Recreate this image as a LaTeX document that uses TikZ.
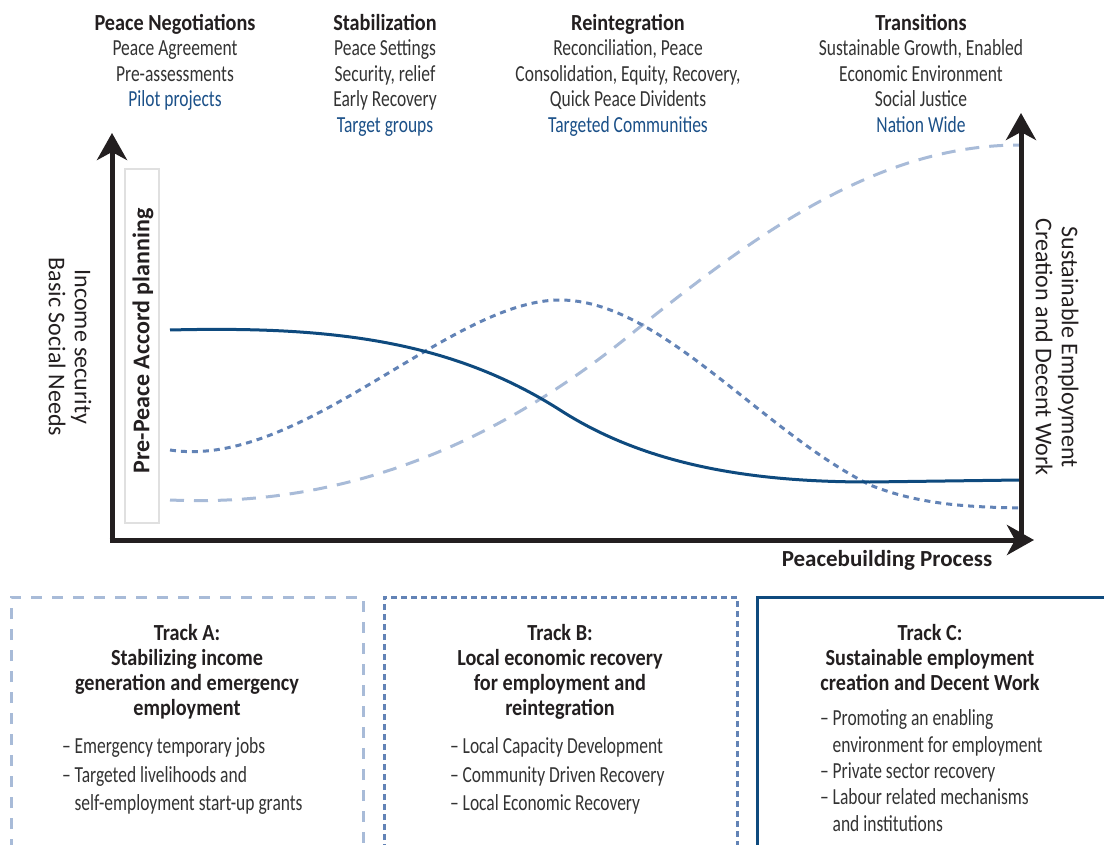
\documentclass[tikz,border=0pt]{standalone}
\usepackage{fontspec}
\setmainfont{Carlito}[FakeStretch=0.76, BoldFeatures={FakeStretch=0.88}]
\newfontfamily\labelfont{Carlito}
\usetikzlibrary{arrows.meta}
\definecolor{txt}{HTML}{231F20}
\definecolor{bodytxt}{HTML}{333333}
\definecolor{navy}{HTML}{0E4A7E}
\definecolor{bluetxt}{HTML}{1B5088}
\definecolor{midblue}{HTML}{6283B6}
\definecolor{lightblue}{HTML}{A8BBD8}
\definecolor{axiscol}{HTML}{231F20}
\begin{document}
\begin{tikzpicture}[x=1pt,y=-1pt,
  every node/.style={inner sep=0pt, outer sep=0pt},
  body/.style={font=\fontsize{23}{25.5}\selectfont, text=bodytxt},
  coltext/.style={body, align=center, anchor=north},
  boxtitle/.style={font=\bfseries\fontsize{23}{25}\selectfont, text=txt, align=center, anchor=north},
  itemsAB/.style={font=\fontsize{23}{28.5}\selectfont, text=bodytxt, align=left, anchor=north west},
  itemsC/.style={font=\fontsize{23}{26.3}\selectfont, text=bodytxt, align=left, anchor=north west},
  sidelabel/.style={font=\labelfont\fontsize{24}{26}\selectfont, text=txt, align=center},
  axisline/.style={line width=5pt, draw=axiscol, -{Stealth[length=27pt,width=30pt,inset=8pt]}},
  curveC/.style={draw=navy, line width=3pt},
  curveB/.style={draw=midblue, line width=3pt, dash pattern=on 6pt off 5pt},
  curveA/.style={draw=lightblue, line width=3pt, dash pattern=on 14pt off 10pt},
  boxA/.style={draw=lightblue, line width=3pt, dash pattern=on 11pt off 10pt},
  boxB/.style={draw=midblue, line width=3pt, dash pattern=on 6pt off 4pt},
  boxC/.style={draw=navy, line width=3pt}
]
\useasboundingbox (0,0) rectangle (1104,845);
\clip (0,0) rectangle (1104,845);

% ---- top column texts
\node[coltext] (neg) at (175,14) {\textbf{\color{txt}Peace Negotiations}\\Peace Agreement\\Pre-assessments\\{\color{bluetxt}Pilot projects}};
\node[coltext] (stab) at (385,14) {\textbf{\color{txt}Stabilization}\\Peace Settings\\Security, relief\\Early Recovery\\{\color{bluetxt}Target groups}};
\node[coltext] (reint) at (628,14) {\textbf{\color{txt}Reintegration}\\Reconciliation, Peace\\Consolidation, Equity, Recovery,\\Quick Peace Dividents\\{\color{bluetxt}Targeted Communities}};
\node[coltext] (trans) at (921,14) {\textbf{\color{txt}Transitions}\\Sustainable Growth, Enabled\\Economic Environment\\Social Justice\\{\color{bluetxt}Nation Wide}};

% ---- pre-peace box
\node[draw=black!12, line width=1.5pt, minimum width=34pt, minimum height=354pt] (pre) at (142,346) {};
\node[rotate=90, sidelabel, font=\labelfont\bfseries\fontsize{24}{26}\selectfont] (pretext) at (143,341) {Pre-Peace Accord planning};

% ---- curves
\draw[curveA] (170,500) .. controls (350,508) and (500,440) .. (630,335)
  .. controls (760,230) and (880,145) .. (1020,145);
\draw[curveB] (170,450) .. controls (300,470) and (450,300) .. (560,300)
  .. controls (660,300) and (760,430) .. (870,485)
  .. controls (920,505) and (970,507) .. (1020,508);
\draw[curveC] (170,330) .. controls (330,326) and (450,340) .. (560,410)
  .. controls (650,468) and (760,482) .. (870,482) -- (1020,480);

% ---- axes
\coordinate (Ostart) at (112,542.5);
\coordinate (Ytop) at (112,133);
\coordinate (Hstart) at (109.5,540);
\coordinate (Xend) at (1034,540);
\coordinate (Rstart) at (1021,542.5);
\coordinate (Rtop) at (1021,113);
\draw[axisline] (Ostart) -- (Ytop);
\draw[axisline] (Hstart) -- (Xend);
\draw[axisline] (Rstart) -- (Rtop);

% ---- axis labels
\node[sidelabel, rotate=-90] (ylab) at (70,347) {Income security\\Basic Social Needs};
\node[sidelabel, rotate=-90] (rlab) at (1057,347) {Sustainable Employment\\Creation and Decent Work};
\node[font=\labelfont\bfseries\fontsize{23}{25}\selectfont, text=txt] (xlab) at (887,560) {Peacebuilding Process};

% ---- track boxes
\draw[boxA] (11,850) -- (11,597) -- (363,597) -- (363,850);
\draw[boxB] (384,850) -- (384,597) -- (737,597) -- (737,850);
\draw[boxC] (757,850) -- (757,597) -- (1110,597);

\node[boxtitle] (ta) at (187,624) {Track A:\\Stabilizing income\\generation and emergency\\employment};
\node[itemsAB] (tai) at (62,738) {\textendash{} Emergency temporary jobs\\\textendash{} Targeted livelihoods and\\\phantom{\textendash{} }self-employment start-up grants};

\node[boxtitle] (tb) at (560,624) {Track B:\\Local economic recovery\\for employment and\\reintegration};
\node[itemsAB] (tbi) at (450,738) {\textendash{} Local Capacity Development\\\textendash{} Community Driven Recovery\\\textendash{} Local Economic Recovery};

\node[boxtitle] (tc) at (930,624) {Track C:\\Sustainable employment\\creation and Decent Work};
\node[itemsC] (tci) at (820,710) {\textendash{} Promoting an enabling\\\phantom{\textendash{} }environment for employment\\\textendash{} Private sector recovery\\\textendash{} Labour related mechanisms\\\phantom{\textendash{} }and institutions};
\end{tikzpicture}
\end{document}
